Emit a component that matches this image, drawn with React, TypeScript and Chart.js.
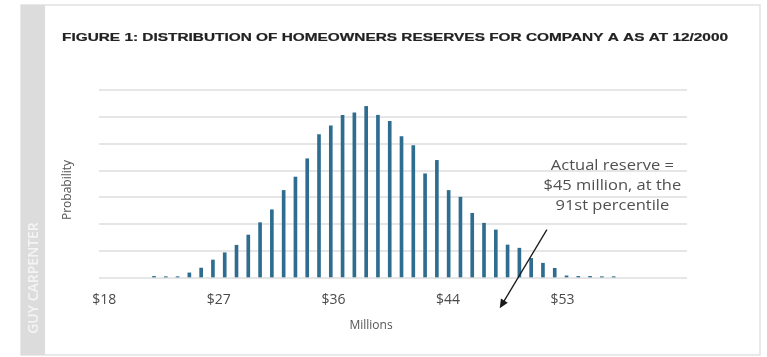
import React, { useEffect, useRef } from "react";
import { Chart, registerables } from "chart.js";

Chart.register(...registerables);

const titleText = "FIGURE 1: DISTRIBUTION OF HOMEOWNERS RESERVES FOR COMPANY A AS AT 12/2000";
const brandText = "GUY CARPENTER";
const yAxisTitle = "Probability";
const xAxisTitle = "Millions";

// Reserve outcome (USD millions) for each bar
const reserveMillions = [
  21.8, 22.7, 23.6, 24.5, 25.4, 26.3, 27.2, 28.1, 29.0, 29.9,
  30.8, 31.7, 32.6, 33.5, 34.4, 35.3, 36.2, 37.1, 38.0, 38.9,
  39.8, 40.7, 41.6, 42.5, 43.4, 44.3, 45.2, 46.1, 47.0, 47.9,
  48.8, 49.7, 50.6, 51.5, 52.4, 53.3, 54.2, 55.1, 56.0, 56.9,
];

// Relative probability (gridline units)
const probability = [
  0.06, 0.05, 0.05, 0.19, 0.37, 0.67, 0.94, 1.22, 1.6, 2.06,
  2.54, 3.26, 3.76, 4.44, 5.34, 5.67, 6.06, 6.15, 6.39, 6.06,
  5.83, 5.27, 4.93, 3.88, 4.38, 3.26, 3.01, 2.41, 2.04, 1.79,
  1.23, 1.11, 0.73, 0.55, 0.36, 0.08, 0.06, 0.06, 0.05, 0.05,
];

const xTickValues = [18, 26.75, 35.5, 44.25, 53];
const xTickLabels = ["$18", "$27", "$36", "$44", "$53"];

const annotationLines = ["Actual reserve =", "$45 million, at the", "91st percentile"];
const annotationAnchor = { x: 56.8, y: 4.18 };
const arrowFrom = { x: 51.8, y: 1.8 };
const arrowTo = { x: 48.2, y: -1.13 };

const W = 767;
const H = 357;

const framePlugin = {
  id: "frame",
  beforeDraw(chart: any) {
    const ctx = chart.ctx;
    ctx.save();
    ctx.fillStyle = "#ffffff";
    ctx.fillRect(0, 0, W, H);
    // card border
    ctx.strokeStyle = "#e2e2e2";
    ctx.lineWidth = 1.5;
    ctx.strokeRect(21, 5, 739, 350);
    // left band
    ctx.fillStyle = "#dcdcdc";
    ctx.fillRect(21, 5, 24, 350);
    // brand text
    ctx.save();
    ctx.translate(34, 278);
    ctx.rotate(-Math.PI / 2);
    ctx.fillStyle = "#f4f4f4";
    ctx.font = "600 14px 'Open Sans'";
    ctx.textAlign = "center";
    ctx.textBaseline = "middle";
    ctx.fillText(brandText, 0, 0);
    ctx.restore();
    // title (stretched to its width in the reference)
    ctx.save();
    ctx.font = "bold 11px 'Liberation Sans'";
    const tw = ctx.measureText(titleText).width;
    const target = 666;
    ctx.translate(62, 38);
    ctx.scale(target / tw, 1);
    ctx.fillStyle = "#222222";
    ctx.strokeStyle = "#222222";
    ctx.lineWidth = 0.2;
    ctx.textAlign = "left";
    ctx.textBaseline = "middle";
    ctx.fillText(titleText, 0, 0);
    ctx.strokeText(titleText, 0, 0);
    ctx.restore();
    ctx.restore();
  },
  afterDatasetsDraw(chart: any) {
    const ctx = chart.ctx;
    const xs = chart.scales.x;
    const ys = chart.scales.y;
    ctx.save();
    // axis titles
    ctx.fillStyle = "#555555";
    ctx.font = "12px 'Open Sans'";
    ctx.textAlign = "center";
    ctx.textBaseline = "middle";
    ctx.fillText(xAxisTitle, 371, 326);
    ctx.save();
    ctx.translate(68, 190);
    ctx.rotate(-Math.PI / 2);
    ctx.fillText(yAxisTitle, 0, 0);
    ctx.restore();
    // annotation text
    ctx.fillStyle = "#505050";
    ctx.font = "15px 'Open Sans'";
    const ax = xs.getPixelForValue(annotationAnchor.x);
    const ay = ys.getPixelForValue(annotationAnchor.y);
    annotationLines.forEach((l, i) => {
      ctx.save();
      ctx.translate(ax, ay + i * 20);
      ctx.scale(1.1, 1);
      ctx.fillText(l, 0, 0);
      ctx.restore();
    });
    // arrow
    const x1 = xs.getPixelForValue(arrowFrom.x);
    const y1 = ys.getPixelForValue(arrowFrom.y);
    const x2 = xs.getPixelForValue(arrowTo.x);
    const y2 = ys.getPixelForValue(arrowTo.y);
    const ang = Math.atan2(y2 - y1, x2 - x1);
    const hl = 9;
    const hw = 4;
    ctx.strokeStyle = "#1a1a1a";
    ctx.fillStyle = "#1a1a1a";
    ctx.lineWidth = 1.3;
    ctx.beginPath();
    ctx.moveTo(x1, y1);
    ctx.lineTo(x2 - Math.cos(ang) * hl * 0.8, y2 - Math.sin(ang) * hl * 0.8);
    ctx.stroke();
    ctx.beginPath();
    ctx.moveTo(x2, y2);
    ctx.lineTo(x2 - Math.cos(ang) * hl - Math.sin(ang) * hw, y2 - Math.sin(ang) * hl + Math.cos(ang) * hw);
    ctx.lineTo(x2 - Math.cos(ang) * hl + Math.sin(ang) * hw, y2 - Math.sin(ang) * hl - Math.cos(ang) * hw);
    ctx.closePath();
    ctx.fill();
    ctx.restore();
  },
};

export default function App() {
  const ref = useRef<HTMLCanvasElement | null>(null);
  useEffect(() => {
    if (!ref.current) return;
    const chart = new Chart(ref.current, {
      type: "bar",
      data: {
        datasets: [
          {
            data: reserveMillions.map((x, i) => ({ x, y: probability[i] })),
            backgroundColor: "#2f6d90",
            barThickness: 3,
          },
        ],
      },
      options: {
        responsive: false,
        animation: false,
        devicePixelRatio: 1,
        layout: { padding: { left: 55, right: 80, top: 90, bottom: 10 } },
        plugins: { legend: { display: false }, tooltip: { enabled: false }, title: { display: false } },
        scales: {
          x: {
            type: "linear",
            min: 17.6,
            max: 62.5,
            offset: false,
            grid: { display: false, drawTicks: false, offset: false },
            border: { display: false },
            afterBuildTicks: (scale: any) => {
              scale.ticks = xTickValues.map((v) => ({ value: v }));
            },
            afterFit: (scale: any) => {
              scale.height = 69;
            },
            ticks: {
              autoSkip: false,
              maxRotation: 0,
              padding: 14,
              color: "#4a4a4a",
              font: { family: "'Open Sans'", size: 14 },
              callback: (_v: any, i: number) => xTickLabels[i],
            },
          },
          y: {
            min: 0,
            max: 7,
            grid: { color: "#e6e6e6", lineWidth: 2, drawTicks: false },
            border: { display: false },
            ticks: { display: false, stepSize: 1 },
            afterFit: (scale: any) => {
              scale.width = 44;
            },
          },
        },
      },
      plugins: [framePlugin],
    } as any);
    return () => chart.destroy();
  }, []);
  return (
    <div style={{ position: "absolute", left: 0, top: 0, width: W, height: H }}>
      <canvas ref={ref} width={W} height={H} style={{ display: "block" }} />
    </div>
  );
}
